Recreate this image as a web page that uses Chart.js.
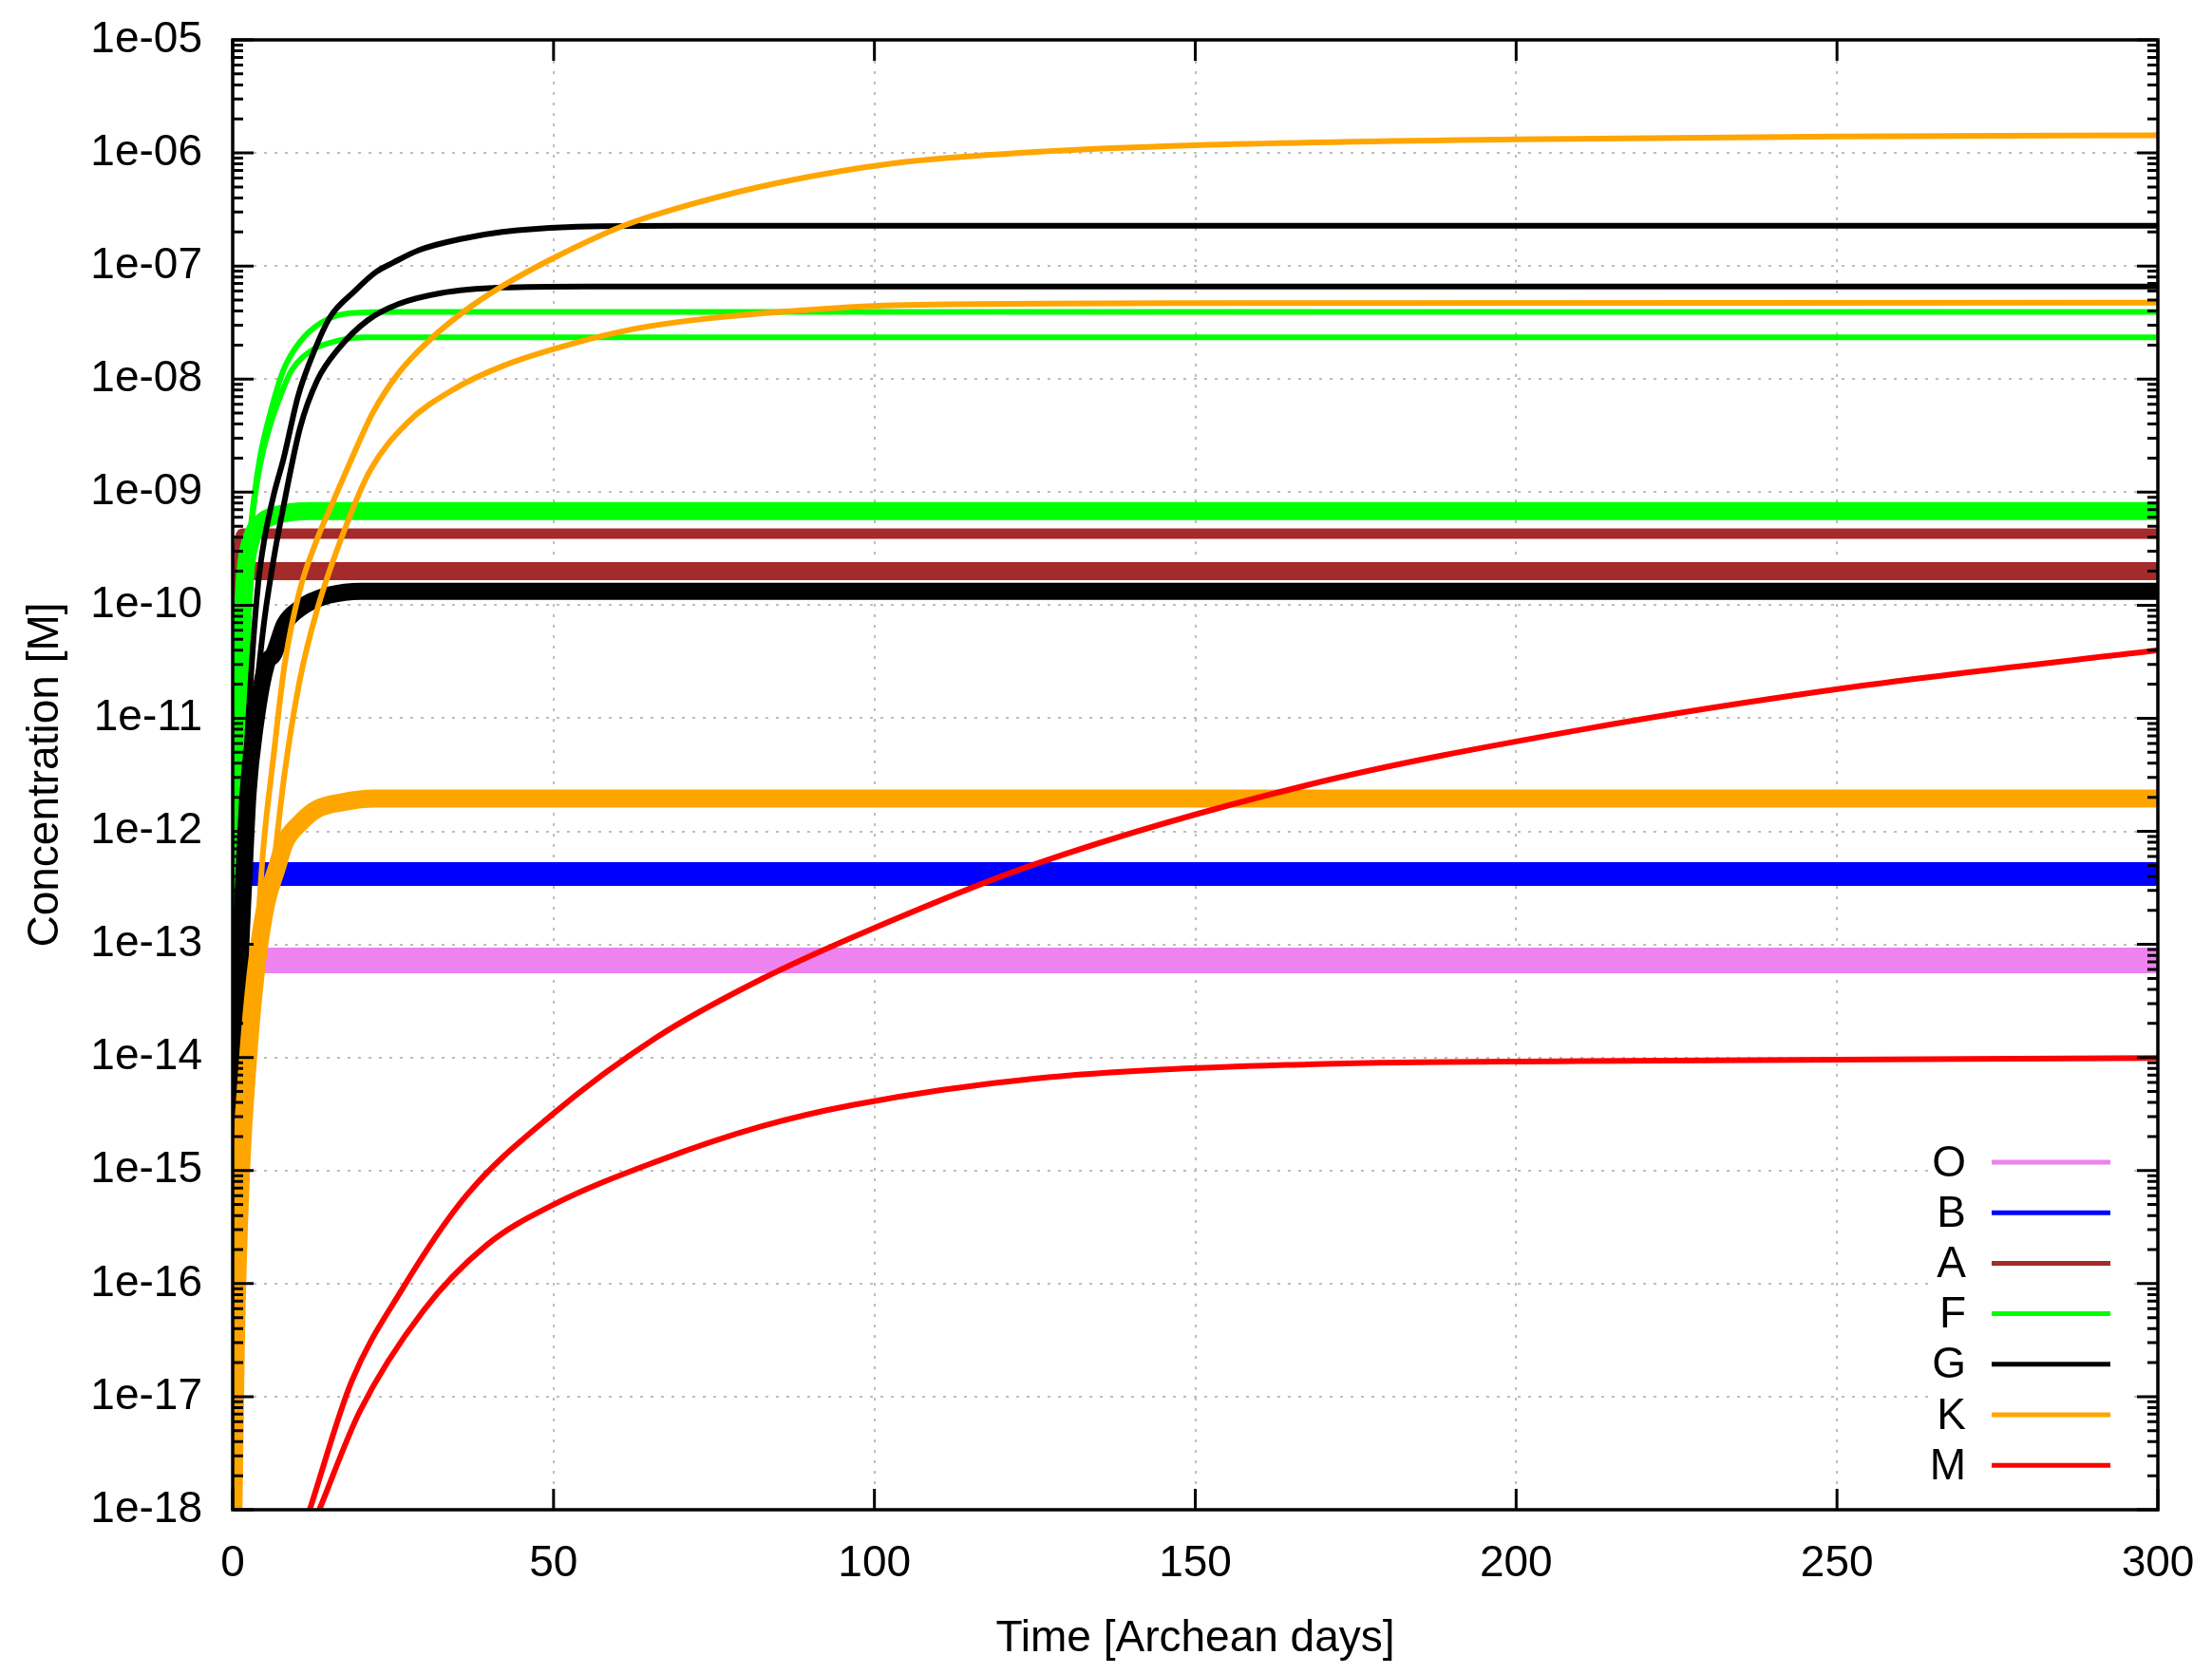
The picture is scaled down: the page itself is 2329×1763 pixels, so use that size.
<!DOCTYPE html>
<html>
<head>
<meta charset="utf-8">
<script src="https://cdn.jsdelivr.net/npm/chart.js@4.4.1/dist/chart.umd.min.js"></script>
<style>
  html, body { margin: 0; padding: 0; background: #fff; }
  #wrap { width: 2329px; height: 1763px; position: relative; }
</style>
</head>
<body>
<div id="wrap"><canvas id="chart"></canvas></div>
<script>
// spectral classes shown in the key
const classes = ['O', 'B', 'A', 'F', 'G', 'K', 'M'];
const classColors = {
    O: '#ee82ee', B: '#0000ff', A: '#a52a2a', F: '#00ff00',
    G: '#000000', K: '#ffa500', M: '#ff0000'
};

// y axis decades and their labels
const yTickValues = [1e-5, 1e-6, 1e-7, 1e-8, 1e-9, 1e-10, 1e-11, 1e-12, 1e-13, 1e-14, 1e-15, 1e-16, 1e-17, 1e-18];
const yTickLabels = ['1e-05', '1e-06', '1e-07', '1e-08', '1e-09', '1e-10', '1e-11', '1e-12', '1e-13', '1e-14', '1e-15', '1e-16', '1e-17', '1e-18'];
const xTickStep = 50;

// concentration [M] vs time [days]
const oDays = [1.56, 300];
const oConc = [7.2e-14, 7.2e-14];

const bDays = [1.56, 300];
const bConc = [4.2e-13, 4.2e-13];

const aTopDays = [0, 0.2, 0.5, 0.9, 1.5, 300];
const aTopConc = [3.2e-14, 3.2e-11, 1.6e-10, 3.2e-10, 4.3e-10, 4.3e-10];
const aLowDays = [0, 0.3, 0.8, 1.5, 300];
const aLowConc = [3.2e-14, 3.2e-11, 1.4e-10, 2e-10, 2e-10];

const fTopDays = [0, 0.5, 1, 1.5, 2, 2.9, 4.2, 5.9, 7.9, 10.5, 13.8, 17.8, 25, 300];
const fTopConc = [1e-17, 1e-13, 3.2e-12, 3.2e-11, 1.26e-10, 5.4e-10, 1.95e-9, 5.1e-9, 1.2e-8, 2.14e-8, 3.16e-8, 3.8e-8, 3.93e-8, 3.93e-8];
const fMidDays = [0, 0.5, 1, 1.5, 2, 2.9, 4.2, 5.9, 7.9, 9.2, 12.5, 16.5, 20.5, 300];
const fMidConc = [1e-17, 1e-13, 3.2e-12, 3.2e-11, 1.26e-10, 5e-10, 1.66e-9, 4e-9, 8.3e-9, 1.2e-8, 1.82e-8, 2.19e-8, 2.34e-8, 2.34e-8];
const fLowDays = [0, 0.5, 1, 1.5, 2, 3, 4.5, 7, 12, 300];
const fLowConc = [1e-17, 1e-13, 6.3e-12, 6.3e-11, 2e-10, 4e-10, 5.4e-10, 6.3e-10, 6.8e-10, 6.8e-10];

const gTopDays = [0, 1, 2, 3, 4, 5, 6.5, 7.9, 10.2, 12.5, 15.2, 19, 22.4, 25, 29, 35.7, 42, 52, 70, 300];
const gTopConc = [3e-19, 1e-13, 3.2e-12, 3.2e-11, 1.6e-10, 4e-10, 1e-9, 1.95e-9, 7.1e-9, 1.66e-8, 3.55e-8, 6e-8, 8.9e-8, 1.07e-7, 1.38e-7, 1.74e-7, 2e-7, 2.21e-7, 2.27e-7, 2.27e-7];
const gMidDays = [0, 1, 2, 3, 4, 5, 6.5, 7.9, 10.5, 13.2, 16.5, 21, 25.8, 32.4, 42, 55, 300];
const gMidConc = [3e-19, 3.2e-14, 1e-12, 6.3e-12, 2.5e-11, 7.9e-11, 2.8e-10, 7.4e-10, 3.7e-9, 9.8e-9, 1.86e-8, 3.3e-8, 4.6e-8, 5.75e-8, 6.45e-8, 6.6e-8, 6.6e-8];
const gLowDays = [0, 0.5, 1, 1.84, 2.4, 3.5, 5.25, 6.4, 8.1, 10.4, 12.1, 15, 20, 300];
const gLowConc = [3e-19, 1e-15, 3.4e-14, 5.1e-13, 2.2e-12, 8.5e-12, 3e-11, 3.7e-11, 6.8e-11, 9.3e-11, 1.07e-10, 1.23e-10, 1.33e-10, 1.33e-10];

const kTopDays = [0, 0.5, 1.3, 2.4, 3.3, 4.7, 6.4, 8.1, 10.4, 13.2, 15.5, 18.5, 21.8, 25.8, 30.4, 36.4, 42.3, 50.3, 60.9, 72.1, 85.4, 103, 125, 150, 200, 250, 300];
const kTopConc = [3e-19, 3.2e-17, 1e-15, 1e-14, 4e-14, 6.3e-13, 4.8e-12, 3e-11, 1.32e-10, 3.9e-10, 7.9e-10, 1.95e-9, 5e-9, 1.12e-8, 2.14e-8, 4.1e-8, 6.8e-8, 1.2e-7, 2.27e-7, 3.6e-7, 5.5e-7, 8.1e-7, 1.02e-6, 1.17e-6, 1.32e-6, 1.4e-6, 1.43e-6];
const kMidDays = [0, 0.5, 1.3, 2.4, 3.3, 4.1, 6.4, 8.1, 10.4, 13.2, 17.4, 21.4, 27.2, 34.4, 42.3, 52.2, 62.2, 72.1, 85.4, 103, 150, 300];
const kMidConc = [3e-19, 3.2e-17, 1e-15, 1e-14, 2.5e-14, 5e-14, 5.1e-13, 3.3e-12, 2.1e-11, 9.3e-11, 4.6e-10, 1.55e-9, 4.1e-9, 8.1e-9, 1.32e-8, 2e-8, 2.75e-8, 3.34e-8, 3.93e-8, 4.5e-8, 4.7e-8, 4.73e-8];
const kLowDays = [0, 0.5, 1.3, 2.4, 3.5, 5, 7, 8.1, 10.4, 13.2, 17.3, 22, 300];
const kLowConc = [3e-19, 3.2e-17, 1e-15, 1e-14, 5e-14, 2e-13, 5e-13, 7.9e-13, 1.17e-12, 1.58e-12, 1.82e-12, 1.95e-12, 1.95e-12];

const mTopDays = [12, 18.5, 26.4, 36.4, 50, 66, 82.3, 100, 124.9, 167.5, 210, 252.7, 300];
const mTopConc = [1e-18, 1.35e-17, 8.9e-17, 6e-16, 3.2e-15, 1.5e-14, 4.9e-14, 1.4e-13, 5.1e-13, 2.57e-12, 7.9e-12, 1.9e-11, 4e-11];
const mLowDays = [13.5, 19.8, 29.7, 39.6, 50, 66, 82.3, 96.6, 124.9, 167.5, 210, 300];
const mLowConc = [1e-18, 7.4e-18, 5.75e-17, 2.2e-16, 5e-16, 1.2e-15, 2.45e-15, 3.8e-15, 6.5e-15, 8.7e-15, 9.3e-15, 9.9e-15];

// which class each curve belongs to, in drawing order (last on top)
const curves = [
    ['O', oDays, oConc], ['B', bDays, bConc],
    ['A', aTopDays, aTopConc], ['A', aLowDays, aLowConc],
    ['F', fTopDays, fTopConc], ['F', fMidDays, fMidConc], ['F', fLowDays, fLowConc],
    ['G', gTopDays, gTopConc], ['G', gMidDays, gMidConc], ['G', gLowDays, gLowConc],
    ['K', kTopDays, kTopConc], ['K', kMidDays, kMidConc], ['K', kLowDays, kLowConc],
    ['M', mTopDays, mTopConc], ['M', mLowDays, mLowConc]
];
// noisy runs look like thick bands in the original
const curveWidths = [27, 25, 11, 19, 6, 6, 19, 6, 6, 18, 6, 6, 19, 6, 6];

const FONT = '"Liberation Sans", Arial, sans-serif';
const CLEAR = 'rgba(0,0,0,0)';

function isDecade(v) {
    return yTickValues.some(d => Math.abs(v / d - 1) < 1e-6);
}

function decadeLabel(v) {
    const i = yTickValues.findIndex(d => Math.abs(v / d - 1) < 1e-6);
    return i >= 0 ? yTickLabels[i] : '';
}

// gnuplot style: inward ticks on all four sides plus the frame
const frameTicks = {
    id: 'frameTicks',
    afterDatasetsDraw(chart) {
        const { ctx, chartArea: a, scales: { x, y } } = chart;
        ctx.save();
        ctx.strokeStyle = '#000';
        ctx.lineWidth = 3;
        ctx.beginPath();
        x.ticks.forEach(t => {
            const px = x.getPixelForValue(t.value);
            ctx.moveTo(px, a.bottom); ctx.lineTo(px, a.bottom - 22);
            ctx.moveTo(px, a.top); ctx.lineTo(px, a.top + 22);
        });
        y.ticks.forEach(t => {
            const py = y.getPixelForValue(t.value);
            const len = isDecade(t.value) ? 22 : 11;
            ctx.moveTo(a.left, py); ctx.lineTo(a.left + len, py);
            ctx.moveTo(a.right, py); ctx.lineTo(a.right - len, py);
        });
        ctx.stroke();
        ctx.lineWidth = 3.5;
        ctx.strokeRect(a.left, a.top, a.right - a.left, a.bottom - a.top);
        ctx.restore();
    }
};

// opaque key in the lower right corner
const keyBox = {
    id: 'keyBox',
    beforeDatasetsDraw(chart) {
        const { ctx, chartArea: a } = chart;
        ctx.save();
        ctx.fillStyle = '#fff';
        ctx.fillRect(a.right - 242, a.bottom - 396, 216, 376);
        ctx.restore();
    },
    afterDatasetsDraw(chart) {
        const { ctx, chartArea: a } = chart;
        const lineEnd = a.right - 50;
        const lineStart = lineEnd - 125;
        const textRight = lineStart - 27;
        ctx.save();
        ctx.font = '46px ' + FONT;
        ctx.textAlign = 'right';
        ctx.textBaseline = 'middle';
        ctx.lineWidth = 5;
        classes.forEach((c, i) => {
            const yy = a.bottom - 366 + i * 53.2;
            ctx.fillStyle = '#000';
            ctx.fillText(c, textRight, yy + 2);
            ctx.strokeStyle = classColors[c];
            ctx.beginPath();
            ctx.moveTo(lineStart, yy);
            ctx.lineTo(lineEnd, yy);
            ctx.stroke();
        });
        ctx.restore();
    }
};

function buildDatasets() {
    return curves.map(([cls, days, conc], i) => ({
        label: cls,
        data: days.map((d, j) => ({ x: d, y: conc[j] })),
        borderColor: classColors[cls],
        borderWidth: curveWidths[i],
        borderCapStyle: 'butt',
        pointRadius: 0,
        fill: false,
        cubicInterpolationMode: 'monotone',
        clip: 0,
        order: curves.length - i
    }));
}

function createChart() {
    const ctx = document.getElementById('chart').getContext('2d');
    const minorTicks = [];
    for (let e = -18; e < -5; e++) {
        for (let m = 2; m <= 9; m++) minorTicks.push(m * Math.pow(10, e));
    }

    new Chart(ctx, {
        type: 'line',
        data: { datasets: buildDatasets() },
        options: {
            responsive: true,
            maintainAspectRatio: false,
            animation: false,
            devicePixelRatio: 1,
            layout: { padding: { top: 42, right: 57, left: 0, bottom: 0 } },
            plugins: {
                legend: { display: false },
                tooltip: { enabled: false }
            },
            scales: {
                x: {
                    type: 'linear',
                    min: 0,
                    max: 300,
                    afterFit: s => { s.height = 173; },
                    ticks: {
                        stepSize: xTickStep,
                        color: '#000',
                        font: { family: FONT, size: 46 },
                        padding: 0,
                        maxRotation: 0
                    },
                    grid: {
                        color: c => (c.tick && c.tick.value > 0 && c.tick.value < 300) ? '#bdbdbd' : CLEAR,
                        lineWidth: 2,
                        drawTicks: true,
                        tickLength: 30,
                        tickColor: CLEAR
                    },
                    border: { display: false, dash: [3, 8] },
                    title: {
                        display: true,
                        text: 'Time [Archean days]',
                        color: '#000',
                        font: { family: FONT, size: 46 },
                        padding: { top: 0, bottom: 9 }
                    }
                },
                y: {
                    type: 'logarithmic',
                    min: 1e-18,
                    max: 1e-5,
                    afterFit: s => { s.width = 245; },
                    afterBuildTicks: s => {
                        s.ticks = yTickValues.concat(minorTicks)
                            .sort((p, q) => p - q)
                            .map(v => ({ value: v, major: isDecade(v) }));
                    },
                    ticks: {
                        autoSkip: false,
                        color: '#000',
                        font: { family: FONT, size: 46 },
                        padding: 0,
                        callback: v => decadeLabel(v)
                    },
                    grid: {
                        color: c => (c.tick && isDecade(c.tick.value)) ? '#bdbdbd' : CLEAR,
                        lineWidth: 2,
                        drawTicks: true,
                        tickLength: 32,
                        tickColor: CLEAR
                    },
                    border: { display: false, dash: [3, 8] },
                    title: {
                        display: true,
                        text: 'Concentration [M]',
                        color: '#000',
                        font: { family: FONT, size: 46 },
                        padding: { top: 21, bottom: 0 }
                    }
                }
            }
        },
        plugins: [keyBox, frameTicks]
    });
}

document.addEventListener('DOMContentLoaded', createChart);
</script>
</body>
</html>
